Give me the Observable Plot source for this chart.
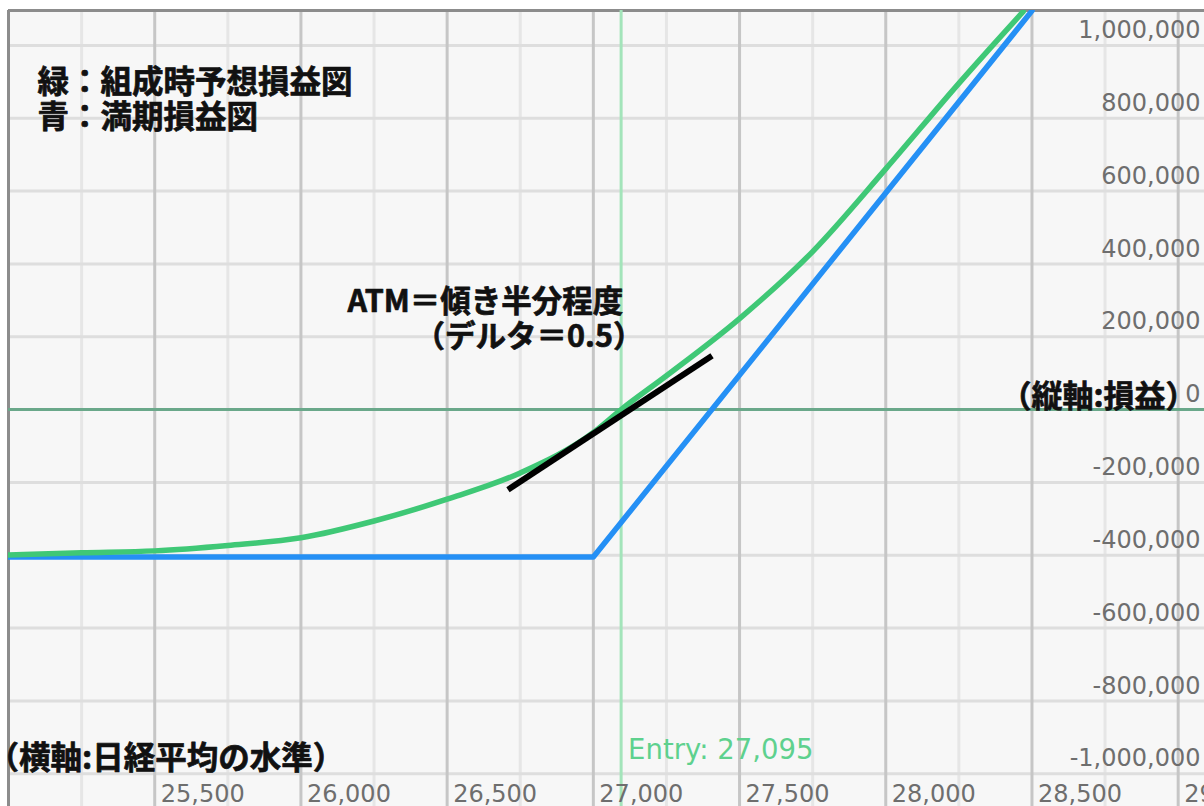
<!DOCTYPE html>
<html>
<head>
<meta charset="utf-8">
<script src="https://cdn.jsdelivr.net/npm/d3@7"></script>
<script src="https://cdn.jsdelivr.net/npm/@observablehq/plot@0.6"></script>
<style>
  html, body { margin: 0; padding: 0; background: #ffffff; overflow: hidden; }
  #chart svg { display: block; }
</style>
</head>
<body>
<div id="chart"></div>
<script>
// ---- data ----
const xMajorTicks = [25500, 26000, 26500, 27000, 27500, 28000, 28500, 29000];
const xMinorTicks = [25250, 25750, 26250, 26750, 27250, 27750, 28250, 28750];
const yTicks = [-1000000, -800000, -600000, -400000, -200000, 0, 200000, 400000, 600000, 800000, 1000000];
const entryPrice = 27095;

// green: P&L at position open (estimated)
const greenX = [25000, 25250, 25500, 25750, 26000, 26250, 26500, 26750, 27000, 27095, 27250, 27500, 27750, 28000, 28250, 28470];
const greenY = [-399000, -393000, -388000, -373000, -352000, -306000, -246000, -174000, -63000, 0, 93000, 250000, 434000, 661000, 896000, 1093000];

// blue: P&L at expiry
const blueX = [25000, 27000, 28500];
const blueY = [-405000, -405000, 1095000];

// black: ATM tangent (delta 0.5)
const tangentX = [26708, 27406];
const tangentY = [-220000, 148000];

const legendLines = ["緑：組成時予想損益図", "青：満期損益図"];
const atmNote = ["ATM＝傾き半分程度", "（デルタ＝0.5）"];
const yAxisTitle = "（縦軸:損益）";
const xAxisTitle = "（横軸:日経平均の水準）";

const xDomain = [25000, 29090];
const yDomain = [-1090000, 1096000];

// ---- build ----
const locale = d3.formatLocale({decimal: ".", thousands: ",", grouping: [3], currency: ["", ""], minus: "-"});
const fmt = locale.format(",");
const green = greenX.map((x, i) => ({x, y: greenY[i]}));
const blue = blueX.map((x, i) => ({x, y: blueY[i]}));
const tangent = tangentX.map((x, i) => ({x, y: tangentY[i]}));

const tickFont = "'DejaVu Sans', Verdana, sans-serif";
const jpFont = "'Noto Sans CJK JP', 'Noto Sans', sans-serif";
const heavy = {fontFamily: jpFont, fontWeight: "bold", fill: "#111", stroke: "#111", strokeWidth: 0.7,
  textAnchor: "start", lineAnchor: "middle", frameAnchor: "top-left", text: d => d};

const chart = Plot.plot({
  width: 1204,
  height: 806,
  marginLeft: 8,
  marginTop: 10,
  marginRight: 0,
  marginBottom: 0,
  x: {domain: xDomain, axis: null},
  y: {domain: yDomain, axis: null},
  style: {background: "#ffffff", fontFamily: tickFont},
  marks: [
    Plot.frame({fill: "#f7f7f7", stroke: null}),
    Plot.ruleX(xMinorTicks, {stroke: "#e6e6e6", strokeWidth: 3}),
    Plot.ruleY(yTicks.filter(d => d !== 0), {stroke: "#dedede", strokeWidth: 3}),
    Plot.ruleX(xMajorTicks, {stroke: "#c6c6c6", strokeWidth: 3}),
    // frame border (left, top)
    Plot.ruleX([xDomain[0]], {stroke: "#8c8c8c", strokeWidth: 3}),
    Plot.ruleY([yDomain[1]], {stroke: "#8c8c8c", strokeWidth: 3}),
    // zero line and entry line
    Plot.ruleY([0], {stroke: "#6aa88a", strokeWidth: 3}),
    Plot.ruleX([entryPrice], {stroke: "#a3e4ba", strokeWidth: 3}),
    // tick labels
    Plot.text(yTicks, {
      y: d => d, frameAnchor: "right", text: d => fmt(d),
      textAnchor: "end", lineAnchor: "middle", dx: -4, dy: -15,
      fill: "#6e6e6e", fontSize: 24
    }),
    Plot.text(xMajorTicks, {
      x: d => d, frameAnchor: "bottom", text: d => fmt(d),
      textAnchor: "start", lineAnchor: "middle", dx: 6, dy: -12,
      fill: "#6e6e6e", fontSize: 24
    }),
    Plot.text([entryPrice], {
      x: d => d, frameAnchor: "bottom", text: d => `Entry: ${fmt(d)}`,
      textAnchor: "start", lineAnchor: "middle", dx: 7, dy: -56,
      fill: "#5ed18e", fontSize: 27.5
    }),
    // data lines
    Plot.line(blue, {x: "x", y: "y", stroke: "#2590f5", strokeWidth: 5.5, clip: true}),
    Plot.line(green, {x: "x", y: "y", stroke: "#3fc876", strokeWidth: 5.5, curve: "monotone-x", clip: true}),
    Plot.line(tangent, {x: "x", y: "y", stroke: "#000000", strokeWidth: 6, strokeLinecap: "butt"}),
    // annotations
    Plot.text([legendLines[0]], {...heavy, dx: 29, dy: 72, fontSize: 31.5}),
    Plot.text([legendLines[1]], {...heavy, dx: 29, dy: 107, fontSize: 31.5}),
    Plot.text([atmNote[0]], {...heavy, dx: 339, dy: 292, fontSize: 30.5}),
    Plot.text([atmNote[1]], {...heavy, dx: 406, dy: 327, fontSize: 30.5}),
    Plot.text([yAxisTitle], {...heavy, textAnchor: "end", dx: 1188, dy: 387, fontSize: 31}),
    Plot.text([xAxisTitle], {...heavy, dx: -21, dy: 748, fontSize: 31.5})
  ]
});

document.getElementById("chart").appendChild(chart);
</script>
</body>
</html>
